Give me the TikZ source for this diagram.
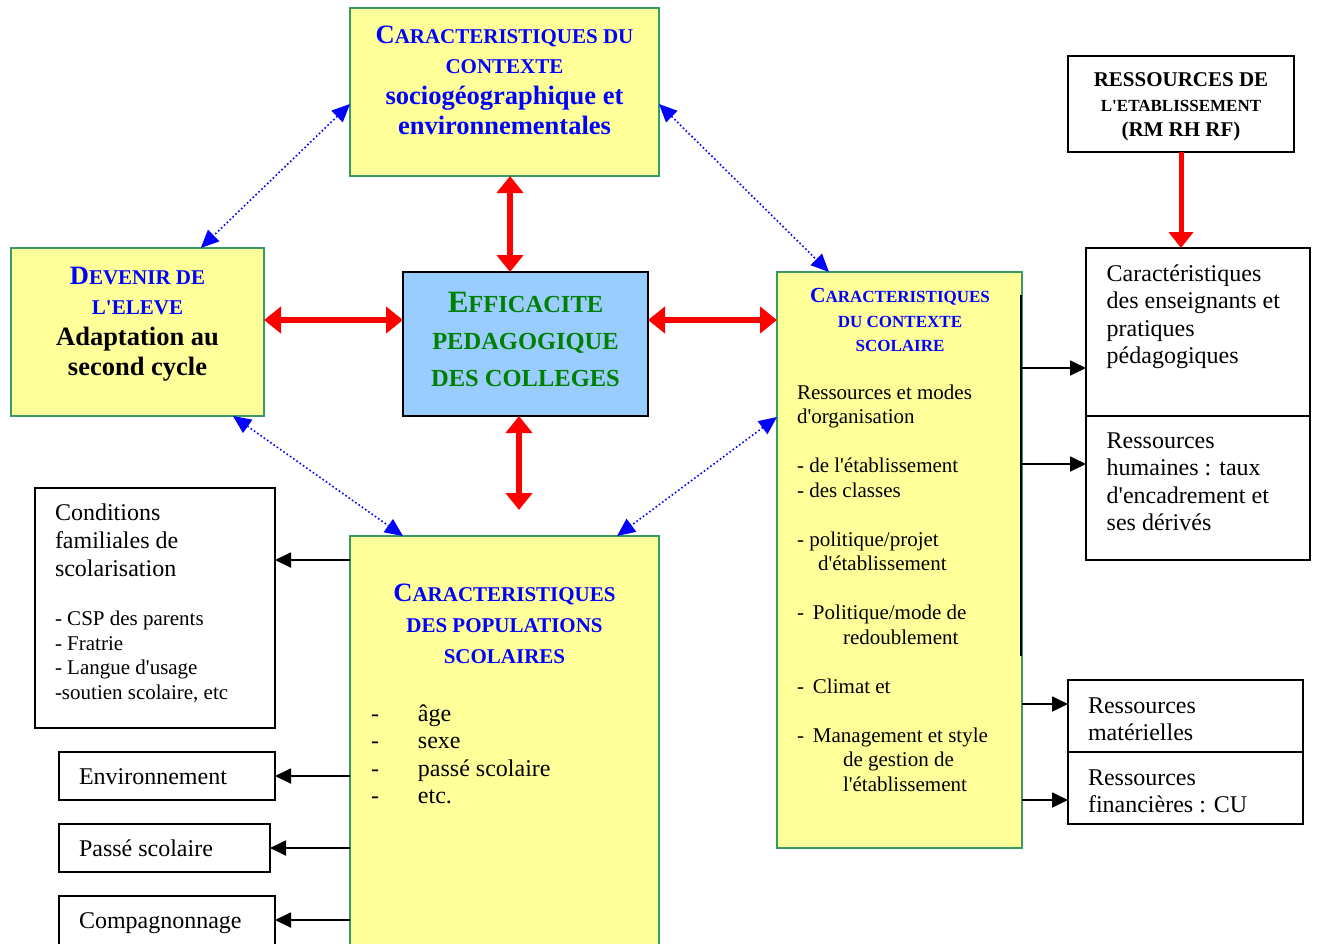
\documentclass[tikz,border=0pt]{standalone}
\usepackage{fontspec}
\setmainfont{Liberation Serif}
\newfontfamily\libser{Liberation Serif}
\usetikzlibrary{arrows.meta,calc}
\definecolor{ybg}{HTML}{FFFF99}
\definecolor{gbd}{HTML}{3A9A66}
\definecolor{bbg}{HTML}{99CCFF}
\definecolor{tblue}{HTML}{0000FF}
\definecolor{tgreen}{HTML}{008000}
\definecolor{ared}{HTML}{FF0000}
\newcommand{\tabL}[1]{\begin{tabular}[t]{@{}l@{}}#1\end{tabular}}
\newcommand{\tabC}[1]{\begin{tabular}[t]{@{}c@{}}#1\end{tabular}}
\newcommand{\fs}[2]{\fontsize{#1}{#2}\selectfont}
\newcommand{\sk}[2]{{\fontsize{#1}{#1}\selectfont #2}}
\tikzset{
  ybox/.style={draw=gbd, fill=ybg, line width=2pt, inner sep=0pt, outer sep=0pt},
  cbox/.style={draw=black, fill=bbg, line width=2pt, inner sep=0pt, outer sep=0pt},
  wbox/.style={draw=black, fill=white, line width=1.6pt, inner sep=0pt, outer sep=0pt},
  txt/.style={inner sep=0pt, outer sep=0pt, font=\libser},
  redarr/.style={draw=ared, line width=5.5pt, {Triangle[width=26pt,length=17pt]}-{Triangle[width=26pt,length=17pt]}},
  redone/.style={draw=ared, line width=5pt, -{Triangle[width=24pt,length=16pt]}},
  bluarr/.style={draw=tblue, line width=1.6pt, dash pattern=on 1.6pt off 2.4pt, {Triangle[width=16pt,length=18pt]}-{Triangle[width=16pt,length=18pt]}},
  blkarr/.style={draw=black, line width=1.8pt, -{Triangle[width=15pt,length=16pt]}},
}
\begin{document}
\begin{tikzpicture}[x=1pt, y=-1pt]
\useasboundingbox (0,0) rectangle (1318,943);
\clip (0,0) rectangle (1318,943);
% boxes
\node[ybox, minimum width=309pt, minimum height=168pt] (ctxgeo) at (504.5,92) {};
\node[ybox, minimum width=253pt, minimum height=168pt] (devenir) at (137.5,332) {};
\node[cbox, minimum width=245pt, minimum height=144pt] (effic) at (525.5,344) {};
\node[ybox, minimum width=245pt, minimum height=576pt] (ctxsco) at (899.5,560) {};
\node[ybox, minimum width=309pt, minimum height=424pt] (popul) at (504.5,748) {};
\node[wbox, minimum width=226pt, minimum height=96pt] (ressetab) at (1181,104) {};
\node[wbox, minimum width=224pt, minimum height=168pt] (enseign) at (1198,332) {};
\node[wbox, minimum width=224pt, minimum height=144pt] (rh) at (1198,488) {};
\node[wbox, minimum width=235pt, minimum height=72pt] (rmat) at (1185.5,716) {};
\node[wbox, minimum width=235pt, minimum height=72pt] (rfin) at (1185.5,788) {};
\node[wbox, minimum width=240pt, minimum height=240pt] (condfam) at (155,608) {};
\node[wbox, minimum width=216pt, minimum height=48pt] (envir) at (167,776) {};
\node[wbox, minimum width=211pt, minimum height=48pt] (passe) at (164.5,848) {};
\node[wbox, minimum width=216pt, minimum height=64pt] (compag) at (167,928) {};
% black edge on the right of the scolaire box
\draw[line width=2pt] (1021,295) -- (1021,656);
% red arrows
\draw[redarr] (ctxgeo.south -| 510,0) -- (effic.north -| 510,0);
\draw[redarr] (devenir.east |- 0,320) -- (effic.west |- 0,320);
\draw[redarr] (effic.east |- 0,320) -- (ctxsco.west |- 0,320);
\coordinate (redend) at (519,510);
\draw[redarr] (effic.south -| redend) -- (redend);
\draw[redone] (ressetab.south) -- (ressetab.south |- enseign.north);
% blue dotted arrows
\draw[bluarr] ([yshift=-12pt]ctxgeo.west) -- ($(devenir.north west)!0.75!(devenir.north east)$);
\draw[bluarr] ([yshift=-12pt]ctxgeo.east) -- ([xshift=52pt]ctxsco.north west);
\draw[bluarr] ([xshift=-31pt]devenir.south east) -- ([xshift=53pt]popul.north west);
\draw[bluarr] ([yshift=-145pt]ctxsco.north west) -- ([xshift=-42pt]popul.north east);
% black arrows
\draw[blkarr] (popul.west |- 0,560) -- (condfam.east |- 0,560);
\draw[blkarr] (popul.west |- envir.east) -- (envir.east);
\draw[blkarr] (popul.west |- passe.east) -- (passe.east);
\draw[blkarr] (popul.west |- 0,920) -- (compag.east |- 0,920);
\draw[blkarr] (ctxsco.east |- 0,368) -- (enseign.west |- 0,368);
\draw[blkarr] (ctxsco.east |- 0,464) -- (rh.west |- 0,464);
\draw[blkarr] (ctxsco.east |- 0,704) -- (rmat.west |- 0,704);
\draw[blkarr] (ctxsco.east |- 0,800) -- (rfin.west |- 0,800);
% texts
\node[txt, text=tblue, anchor=base] (tctxgeo) at (504.5,43.3) {\fs{26.5}{30.5}\bfseries\tabC{C\sk{21}{ARACTERISTIQUES DU}\\ \sk{21}{CONTEXTE}\\ sociogéographique et\\ environnementales}};
\node[txt, anchor=base] (tdevenir) at (137.5,284) {\fs{26.5}{30.5}\bfseries\tabC{\color{tblue}D\sk{21}{EVENIR DE}\\ \color{tblue}\sk{21}{L'ELEVE}\\ Adaptation au\\ second cycle}};
\node[txt, text=tgreen, anchor=base] (teffic) at (525.5,312.7) {\fs{31}{36.7}\bfseries\tabC{E\sk{24.5}{FFICACITE}\\ \sk{24.5}{PEDAGOGIQUE}\\ \sk{24.5}{DES COLLEGES}}};
\node[txt, text=tblue, anchor=base] (tctxsco) at (900,302.7) {\fs{21.5}{24.5}\bfseries\tabC{C\sk{17}{ARACTERISTIQUES}\\ \sk{17}{DU CONTEXTE}\\ \sk{17}{SCOLAIRE}}};
\node[txt, anchor=base west] (bctxsco) at (797,399) {\fs{21}{24.5}\tabL{Ressources et modes\\ d'organisation\\ \\ - de l'établissement\\ - des classes\\ \\ - politique/projet\\ \hspace*{21pt}d'établissement\\ \\ -\hspace{9pt}Politique/mode de\\ \hspace*{46pt}redoublement\\ \\ -\hspace{9pt}Climat et\\ \\ -\hspace{9pt}Management et style\\ \hspace*{46pt}de gestion de\\ \hspace*{46pt}l'établissement}};
\node[txt, anchor=base] (tressetab) at (1181,86) {\fs{21}{25}\bfseries\tabC{RESSOURCES DE\\ \sk{17}{L'ETABLISSEMENT}\\ (RM RH RF)}};
\node[txt, anchor=base west] (tenseign) at (1106.7,281) {\fs{24}{27.5}\tabL{Caractéristiques\\ des enseignants et\\ pratiques\\ pédagogiques}};
\node[txt, anchor=base west] (trh) at (1106.7,448.3) {\fs{24}{27.5}\tabL{Ressources\\ humaines : taux\\ d'encadrement et\\ ses dérivés}};
\node[txt, anchor=base west] (trmat) at (1088,713.3) {\fs{24}{27}\tabL{Ressources\\ matérielles}};
\node[txt, anchor=base west] (trfin) at (1088,785) {\fs{24}{27}\tabL{Ressources\\ financières : CU}};
\node[txt, anchor=base west] (tcondfam) at (55,520.7) {\fs{24}{27.7}\tabL{Conditions\\ familiales de\\ scolarisation}};
\node[txt, anchor=base west] (lcondfam) at (55,625.7) {\fs{21}{24.5}\tabL{- CSP des parents\\ - Fratrie\\ - Langue d'usage\\ -soutien scolaire, etc}};
\node[txt, anchor=base west] (tenvir) at (79,784) {\fs{24}{27}Environnement};
\node[txt, anchor=base west] (tpasse) at (79,856) {\fs{24}{27}Passé scolaire};
\node[txt, anchor=base west] (tcompag) at (79,928) {\fs{24}{27}Compagnonnage};
\node[txt, text=tblue, anchor=base] (tpopul) at (504.5,601.7) {\fs{26.5}{31}\bfseries\tabC{C\sk{21}{ARACTERISTIQUES}\\ \sk{21}{DES POPULATIONS}\\ \sk{21}{SCOLAIRES}}};
\node[txt, anchor=base west] (lpopul) at (371,721.7) {\fs{24}{27.2}\tabL{\makebox[47pt][l]{-}âge\\ \makebox[47pt][l]{-}sexe\\ \makebox[47pt][l]{-}passé scolaire\\ \makebox[47pt][l]{-}etc.}};
\end{tikzpicture}
\end{document}
